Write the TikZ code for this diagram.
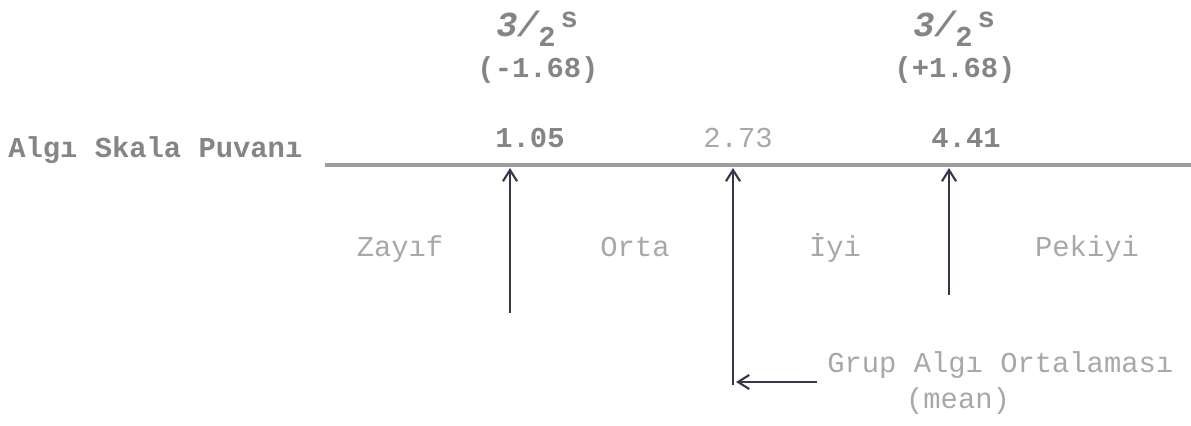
\documentclass[tikz,border=0pt]{standalone}
\usepackage{fontspec}
\newfontfamily\typer{Liberation Mono}
\usetikzlibrary{arrows.meta}
\definecolor{inkgray}{HTML}{858585}
\definecolor{fadegray}{HTML}{A8A8A8}
\definecolor{rulegray}{HTML}{9C9C9C}
\definecolor{penblue}{HTML}{36364C}

\begin{document}
\begin{tikzpicture}[x=0.025cm,y=-0.025cm,
  typed/.style={font=\typer\bfseries\fontsize{20.5}{24}\selectfont,text=inkgray,inner sep=0pt,anchor=base},
  faint/.style={font=\typer\fontsize{20.5}{24}\selectfont,text=fadegray,inner sep=0pt,anchor=base},
  scaleline/.style={draw=rulegray,line width=3pt},
  pointer/.style={draw=penblue,line width=1.5pt,-{Straight Barb[length=8pt,width=10pt]}}]
  \useasboundingbox (0,0) rectangle (1191,426);
  % scale
  \node[typed,anchor=base west] (title) at (8,158) {Algı Skala Puvanı};
  \coordinate (scalestart) at (325,165);
  \coordinate (scaleend) at (1191,165);
  \draw[scaleline] (scalestart) -- (scaleend);
  % values on the scale
  \node[typed] (low) at (530,148) {1.05};
  \node[faint] (mid) at (738,148) {2.73};
  \node[typed] (high) at (966,148) {4.41};
  \node[typed,anchor=base west] (lowsd) at (496,37) {{\fontsize{25}{24}\selectfont\itshape 3/}\raisebox{-0.6ex}{2}\,\raisebox{0.6ex}{s}};
  \node[typed] (lowdev) at (538,78) {(-1.68)};
  \node[typed,anchor=base west] (highsd) at (913,37) {{\fontsize{25}{24}\selectfont\itshape 3/}\raisebox{-0.6ex}{2}\,\raisebox{0.6ex}{s}};
  \node[typed] (highdev) at (955,78) {(+1.68)};
  % categories
  \node[faint] (zayif) at (400,257) {Zayıf};
  \node[faint] (orta) at (635,257) {Orta};
  \node[faint] (iyi) at (835,257) {İyi};
  \node[faint] (pekiyi) at (1087,257) {Pekiyi};
  % arrows
  \coordinate (tiplow) at (510,168);
  \coordinate (footlow) at (510,313);
  \coordinate (tipmid) at (733,168);
  \coordinate (footmid) at (733,385);
  \coordinate (tiphigh) at (949,168);
  \coordinate (foothigh) at (949,295);
  \draw[pointer] (footlow) -- (tiplow);
  \draw[pointer] (footmid) -- (tipmid);
  \draw[pointer] (foothigh) -- (tiphigh);
  % group mean
  \node[faint,anchor=base west] (grup) at (827,372) {Grup Algı Ortalaması};
  \node[faint] (mean) at (958,408) {(mean)};
  \coordinate (meanfoot) at (817,382);
  \coordinate (meantip) at (736,382);
  \draw[pointer] (meanfoot) -- (meantip);
\end{tikzpicture}
\end{document}
